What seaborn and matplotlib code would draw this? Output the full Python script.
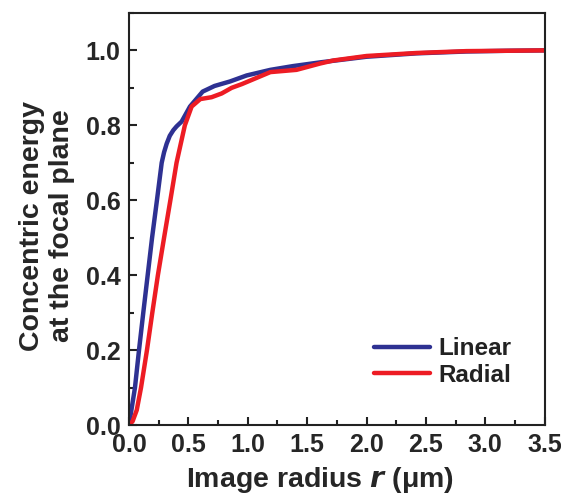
import matplotlib
matplotlib.use("Agg")
import matplotlib.pyplot as plt
from matplotlib.ticker import MultipleLocator
import seaborn as sns
import pandas as pd

# values
r_linear = [0, 0.01, 0.05, 0.084, 0.12, 0.157, 0.194, 0.235, 0.275, 0.295, 0.317, 0.343, 0.373,
            0.40, 0.443, 0.513, 0.62, 0.72, 0.85, 0.99, 1.19, 1.38, 1.61, 2.0, 2.42, 2.84, 3.2, 3.5]
e_linear = [0, 0.02, 0.1, 0.2, 0.3, 0.4, 0.5, 0.6, 0.7, 0.728, 0.751, 0.772, 0.787,
            0.797, 0.81, 0.85, 0.89, 0.905, 0.917, 0.933, 0.948, 0.958, 0.968, 0.983, 0.992, 0.997, 0.999, 1.0]

r_radial = [0, 0.03, 0.065, 0.101, 0.151, 0.196, 0.243, 0.295, 0.348, 0.40, 0.47, 0.527, 0.6,
            0.695, 0.78, 0.864, 0.95, 1.04, 1.19, 1.41, 1.61, 1.72, 2.0, 2.42, 2.84, 3.2, 3.5]
e_radial = [0, 0.01, 0.04, 0.1, 0.2, 0.3, 0.4, 0.5, 0.6, 0.7, 0.8, 0.85, 0.87,
            0.875, 0.885, 0.9, 0.91, 0.922, 0.942, 0.948, 0.965, 0.973, 0.985, 0.993, 0.998, 0.999, 1.0]

labels = ["Linear", "Radial"]
colors = {"Linear": "#2E3192", "Radial": "#ED1C24"}
xticks = [0, 0.5, 1.0, 1.5, 2.0, 2.5, 3.0, 3.5]
yticks = [0, 0.2, 0.4, 0.6, 0.8, 1.0]

df = pd.concat([
    pd.DataFrame({"r": r_linear, "energy": e_linear, "mode": labels[0]}),
    pd.DataFrame({"r": r_radial, "energy": e_radial, "mode": labels[1]}),
])

sns.set_style("ticks")
plt.rcParams["font.family"] = ["Liberation Sans", "DejaVu Sans"]
plt.rcParams["font.weight"] = "bold"

fig = plt.figure(figsize=(5.61, 4.96), dpi=100)
ax = fig.add_axes([0.23, 0.143, 0.741, 0.831])

sns.lineplot(data=df, x="r", y="energy", hue="mode", palette=colors, estimator=None,
             sort=False, linewidth=3.2, ax=ax)

ax.set_xlim(0, 3.5)
ax.set_ylim(0, 1.1)
ax.set_xticks(xticks)
ax.set_xticklabels([f"{v:.1f}" for v in xticks])
ax.set_yticks(yticks)
ax.set_yticklabels([f"{v:.1f}" for v in yticks])
ax.xaxis.set_minor_locator(MultipleLocator(0.25))
ax.yaxis.set_minor_locator(MultipleLocator(0.1))

ax.tick_params(which="major", direction="in", length=6, width=1.5, labelsize=18, pad=6, color="#222222")
ax.tick_params(which="minor", direction="in", length=3.5, width=1.5, color="#222222")
for s in ax.spines.values():
    s.set_linewidth(1.5)
    s.set_color("#222222")

ax.set_xlabel("Image radius $\\bfit{r}$ (μm)", fontsize=20.5, fontweight="bold")
ax.set_ylabel("Concentric energy\nat the focal plane", fontsize=20.5, fontweight="bold")
ax.xaxis.set_label_coords(0.46, -0.096)
ax.yaxis.set_label_coords(-0.13, 0.483)

leg = ax.legend(loc="upper left", bbox_to_anchor=(0.565, 0.237), frameon=False, fontsize=17.5,
                handlelength=2.3, handletextpad=0.35, labelspacing=0.15, borderaxespad=0)
for t in leg.get_texts():
    t.set_fontweight("bold")
    t.set_color("#222222")
for h in leg.legend_handles:
    h.set_linewidth(3.2)

fig.savefig("out.png", dpi=100)
